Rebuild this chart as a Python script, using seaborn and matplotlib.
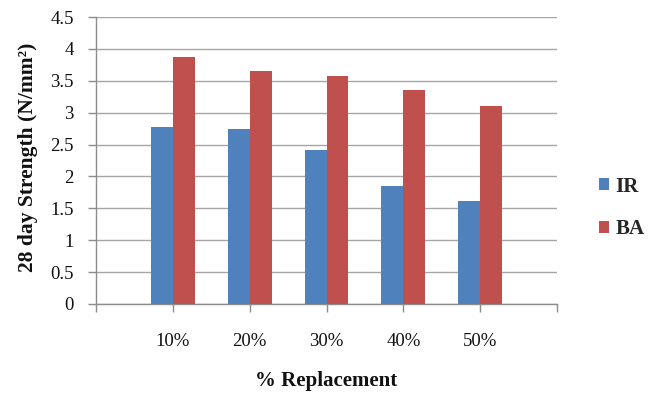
import matplotlib
matplotlib.use("Agg")
import matplotlib.pyplot as plt
import seaborn as sns
import pandas as pd

# 28-day strength for each replacement level
replacement = ["10%", "20%", "30%", "40%", "50%"]
ir_strength = [2.77, 2.74, 2.41, 1.85, 1.62]
ba_strength = [3.87, 3.65, 3.57, 3.35, 3.10]
series_names = ["IR", "BA"]
series_colors = ["#4F81BD", "#C0504D"]
y_ticks = [0, 0.5, 1, 1.5, 2, 2.5, 3, 3.5, 4, 4.5]
y_tick_labels = ["0", "0.5", "1", "1.5", "2", "2.5", "3", "3.5", "4", "4.5"]

df = pd.DataFrame({
    "Replacement": replacement * 2,
    "Strength": ir_strength + ba_strength,
    "Series": [series_names[0]] * len(replacement) + [series_names[1]] * len(replacement),
})

sns.set_theme(style="white")
plt.rcParams["font.family"] = ["Liberation Serif", "DejaVu Serif"]

fig = plt.figure(figsize=(6.53, 3.94), dpi=100)
ax = fig.add_axes([96 / 653, 1 - 304 / 394, (557 - 96) / 653, (304 - 17) / 394])

sns.barplot(
    data=df, x="Replacement", y="Strength", hue="Series",
    order=replacement, hue_order=series_names, palette=series_colors,
    width=0.57, gap=0, saturation=1, edgecolor="none", errorbar=None,
    ax=ax, zorder=3,
)

grid_c = "#a6a6a6"
axis_c = "#8c8c8c"
text_c = "#111111"

ax.set_ylim(0, 4.5)
ax.set_yticks(y_ticks)
ax.set_yticklabels(y_tick_labels, fontsize=13.5)
ax.yaxis.grid(True, color=grid_c, linewidth=1.0, zorder=0)
ax.set_axisbelow(True)

# category axis with an empty slot at either end
ax.set_xlim(-1, len(replacement))
ax.set_xticks(range(-1, len(replacement) + 1))
ax.set_xticklabels([""] + replacement + [""], fontsize=13.5)

for side in ("top", "right"):
    ax.spines[side].set_visible(False)
for side in ("left", "bottom"):
    ax.spines[side].set_color(axis_c)
    ax.spines[side].set_linewidth(1.0)

ax.tick_params(axis="y", which="major", direction="out", length=6, width=1,
               color=axis_c, pad=10, left=True, labelcolor=text_c)
ax.tick_params(axis="x", which="major", direction="out", length=6, width=1,
               color=axis_c, pad=15, bottom=True, labelcolor=text_c)

ax.set_xlabel("% Replacement", fontsize=15, fontweight="bold", color=text_c,
              va="center")
ax.xaxis.set_label_coords(0.499, (304 - 381) / 287)
ax.set_ylabel("28 day Strength (N/mm²)", fontsize=15.5, fontweight="bold",
              color=text_c, va="center")
ax.yaxis.set_label_coords((28 - 96) / 461, (304 - 157) / 287)

leg = ax.legend(
    loc="center left", bbox_to_anchor=(580 / 653, 1 - 208 / 394),
    bbox_transform=fig.transFigure, frameon=False,
    prop={"family": ["Liberation Serif"], "weight": "bold", "size": 15},
    handlelength=0.5, handleheight=0.5, handletextpad=0.3, labelspacing=1.1,
)

fig.savefig("out.png", dpi=100, facecolor="white")
